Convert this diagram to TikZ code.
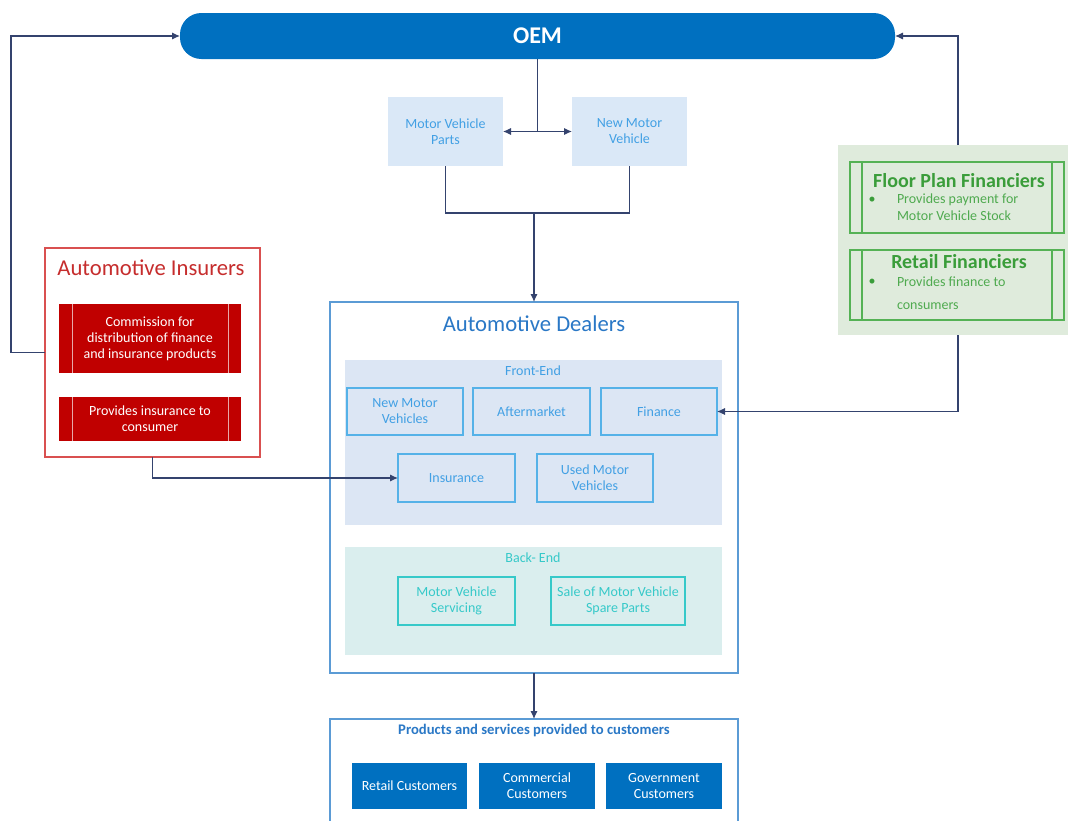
\documentclass[tikz,border=0pt]{standalone}
\usepackage{fontspec}
\setmainfont{Carlito}
\usetikzlibrary{arrows.meta}
\definecolor{oemblue}{HTML}{0070C0}
\definecolor{lbfill}{HTML}{DAE8F7}
\definecolor{lbtext}{HTML}{42A0E4}
\definecolor{dealbord}{HTML}{5B9BD5}
\definecolor{dealtitle}{HTML}{2A78C6}
\definecolor{fepanel}{HTML}{DCE6F4}
\definecolor{febord}{HTML}{55B2E8}
\definecolor{bepanel}{HTML}{DAEEEE}
\definecolor{tealc}{HTML}{36C9C9}
\definecolor{redfill}{HTML}{C00000}
\definecolor{redbord}{HTML}{D95050}
\definecolor{redtitle}{HTML}{C62D2D}
\definecolor{redinner}{HTML}{E8A8A8}
\definecolor{grpanel}{HTML}{DFEBDC}
\definecolor{grline}{HTML}{55B255}
\definecolor{grtitle}{HTML}{3A9D3A}
\definecolor{grtext}{HTML}{4FAA4F}
\definecolor{linec}{HTML}{34436E}
\tikzset{
  conn/.style={draw=linec, line width=0.9pt},
  arr/.style={conn, -{Latex[length=6pt,width=5.5pt]}},
  base/.style={inner sep=0pt, outer sep=0pt, align=center, font=\fontsize{10.5}{12}\selectfont},
  lbox/.style={base, fill=lbfill, text=lbtext},
  febox/.style={base, draw=febord, line width=0.8pt, text=lbtext},
  bebox/.style={base, draw=tealc, line width=0.8pt, text=tealc},
  cust/.style={base, fill=oemblue, text=white},
  redbox/.style={base, fill=redfill, text=white},
  grbox/.style={base, draw=grline, line width=0.9pt},
  bigframe/.style={base, line width=0.9pt},
}
\newcommand\rbox[7]{\node[#1, minimum width={(#5-#3)*0.75pt}, minimum height={(#6-#4)*0.75pt}] (#2) at ({(#3+#5)/2},{(#4+#6)/2}) {#7};}
\begin{document}
\begin{tikzpicture}[x=0.75pt,y=-0.75pt]
\useasboundingbox (0,0) rectangle (1068,821);
% OEM
\rbox{base, fill=oemblue, rounded corners=16pt, text=white, font=\fontsize{18}{20}\selectfont\bfseries}{oem}{180}{13}{895}{59}{OEM}
% parts boxes
\rbox{lbox}{mvp}{388}{97}{503}{166}{Motor Vehicle\\Parts}
\rbox{lbox}{nmv}{572}{97}{687}{166}{New Motor\\Vehicle}
% dealers
\rbox{bigframe, draw=dealbord, fill=white}{deal}{330}{302}{738}{673}{}
\node[base, text=dealtitle, font=\fontsize{17}{20}\selectfont] (dealt) at (534,324) {Automotive Dealers};
\rbox{base, fill=fepanel}{fe}{345}{360}{722}{525}{}
\node[base, text=lbtext] (fet) at (533,371) {Front-End};
\rbox{febox}{nmvs}{347}{388}{463}{435}{New Motor\\Vehicles}
\rbox{febox}{aft}{473}{388}{590}{435}{Aftermarket}
\rbox{febox}{fin}{601}{388}{717}{435}{Finance}
\rbox{febox}{insu}{398}{454}{515}{502}{Insurance}
\rbox{febox}{used}{537}{454}{653}{502}{Used Motor\\Vehicles}
\rbox{base, fill=bepanel}{be}{345}{547}{722}{655}{}
\node[base, text=tealc] (bet) at (533,558) {Back- End};
\rbox{bebox}{serv}{398}{577}{515}{625}{Motor Vehicle\\Servicing}
\rbox{bebox}{spare}{551}{577}{685}{625}{Sale of Motor Vehicle\\Spare Parts}
% products
\rbox{bigframe, draw=dealbord, fill=white}{prod}{330}{719}{738}{835}{}
\node[base, text=dealtitle, font=\fontsize{11}{13}\selectfont\bfseries] (prodt) at (534,731) {Products and services provided to customers};
\rbox{cust}{retc}{352}{763}{467}{809}{Retail Customers}
\rbox{cust}{comc}{479}{763}{595}{809}{Commercial\\Customers}
\rbox{cust}{govc}{606}{763}{722}{809}{Government\\Customers}
% insurers
\rbox{bigframe, draw=redbord, fill=white}{ins}{45}{248}{260}{457}{}
\node[base, text=redtitle, font=\fontsize{17}{20}\selectfont] (inst) at (151,268) {Automotive Insurers};
\rbox{redbox}{comm}{59}{304}{241}{373}{Commission for\\distribution of finance\\and insurance products}
\rbox{redbox}{provi}{59}{397}{241}{441}{Provides insurance to\\consumer}
\foreach \yy/\zz in {304/373,397/441}{
  \draw[redinner, line width=0.6pt] (72,\yy) -- (72,\zz);
  \draw[redinner, line width=0.6pt] (228,\yy) -- (228,\zz);
}
% financiers
\rbox{base, fill=grpanel}{green}{838}{145}{1078}{335}{}
\rbox{grbox}{fpf}{850}{162}{1064}{233}{}
\rbox{grbox}{rf}{850}{250}{1064}{320}{}
\foreach \yy/\zz in {162/233,250/320}{
  \draw[grline, line width=0.9pt] (862,\yy) -- (862,\zz);
  \draw[grline, line width=0.9pt] (1052,\yy) -- (1052,\zz);
}
\node[base, text=grtitle, font=\fontsize{15}{17}\selectfont\bfseries] (fpft) at (959,181) {Floor Plan Financiers};
\node[base, text=grtitle, font=\fontsize{15}{17}\selectfont\bfseries] (rft) at (959,262) {Retail Financiers};
\node[base, text=grtitle] (b1) at (872,200) {•};
\node[base, text=grtext, anchor=west] (t1) at (897,200) {Provides payment for};
\node[base, text=grtext, anchor=west] (t2) at (897,216) {Motor Vehicle Stock};
\node[base, text=grtitle] (b2) at (872,282) {•};
\node[base, text=grtext, anchor=west] (t3) at (897,282) {Provides finance to};
\node[base, text=grtext, anchor=west] (t4) at (897,306) {consumers};
% connectors
\coordinate (split) at (537.5,131.5);
\coordinate (merge) at (534,213);
\draw[conn] (oem.south) -- (split);
\draw[arr] (split) -- (mvp.east);
\draw[arr] (split) -- (nmv.west);
\draw[conn] (mvp.south) |- (merge) -| (nmv.south);
\draw[arr] (merge) -- (deal.north);
\draw[arr] (deal.south) -- (prod.north);
\draw[arr] (ins.west) -- ++(-34,0) |- (oem.west);
\draw[arr] (green.north) |- (oem.east);
\draw[arr] (green.south) |- (fin.east);
\draw[arr] (ins.south) |- (insu.west);
\end{tikzpicture}
\end{document}
